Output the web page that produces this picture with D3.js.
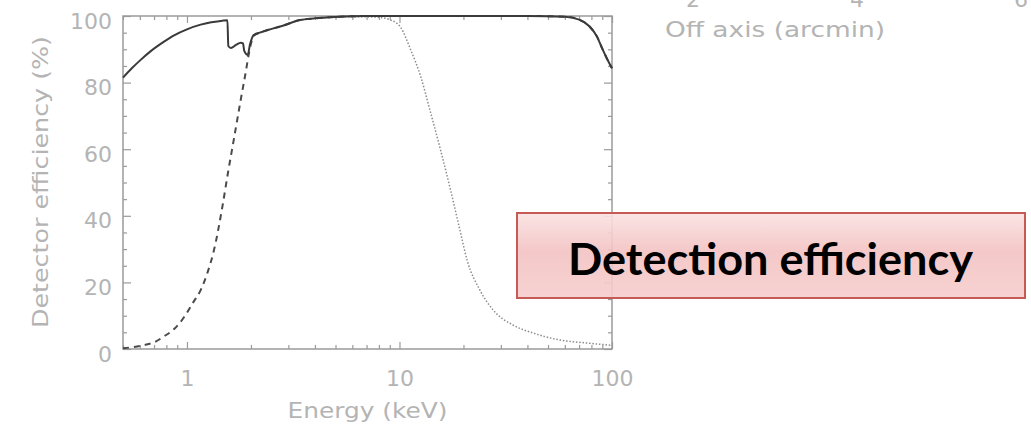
<!DOCTYPE html>
<html>
<head>
<meta charset="utf-8">
<script src="https://cdn.jsdelivr.net/npm/d3@7"></script>
<style>
  html, body { margin: 0; padding: 0; background: #fff; }
  svg { display: block; }
</style>
</head>
<body>
<svg id="chart" width="1031" height="427"></svg>
<script>
// Energy grid (keV) and efficiency (%) for each curve
const solidEnergy = [0.5, 0.55, 0.6, 0.68, 0.78, 0.87, 1.0, 1.16, 1.3, 1.47, 1.55,
  1.565, 1.61, 1.7, 1.79, 1.835, 1.86, 1.93, 1.98, 2.06, 2.2, 2.4, 2.8, 3.4, 4, 5, 7,
  10, 20, 40, 60, 70, 78, 85, 90, 95, 100];
const solidEff = [81.5, 84.3, 86.6, 89.6, 92.3, 94.2, 96.0, 97.4, 98.1, 98.6, 98.7,
  91.0, 90.4, 91.3, 92.0, 91.8, 89.5, 88.3, 91.5, 94.3, 95.0, 95.8, 97.0, 98.8, 99.3, 99.7, 100,
  100, 100, 100, 99.8, 98.9, 97.0, 93.8, 90.2, 87.0, 84.3];

const dashedEnergy = [0.5, 0.56, 0.63, 0.7, 0.78, 0.87, 0.97, 1.07, 1.16, 1.25, 1.34,
  1.47, 1.56, 1.66, 1.79, 1.9, 1.95, 2.06, 2.2, 2.4, 2.8, 3.4, 4, 5, 7,
  10, 20, 40, 60, 70, 78, 85, 90, 95, 100];
const dashedEff = [0.2, 0.6, 1.2, 2.0, 3.8, 6.0, 9.6, 14.0, 17.7, 23.0, 29.7,
  43.0, 53.0, 62.8, 74.8, 84.0, 88.3, 94.0, 95.0, 95.8, 97.0, 98.8, 99.3, 99.7, 100,
  100, 100, 100, 99.8, 98.9, 97.0, 93.8, 90.2, 87.0, 84.3];

const dottedEnergy = [4, 6, 8, 9.07, 10.1, 11.3, 12.6, 13.9, 15.6, 17.4, 19.4, 20.8,
  23.9, 27.6, 34.2, 42.5, 56.9, 76.0, 100];
const dottedEff = [99.3, 99.8, 99.6, 98.8, 96.7, 89.8, 81.7, 71.8, 59.8, 47.7, 34.8, 26.7,
  17.7, 11.7, 7.2, 4.8, 2.7, 1.8, 1.1];

const xTickLabels = [1, 10, 100];
const yTickLabels = [0, 20, 40, 60, 80, 100];
const offAxisTicks = [2, 4, 6];

const svg = d3.select("#chart");
const plotLeft = 123, plotRight = 612, plotTop = 16, plotBottom = 349;

const x = d3.scaleLog().domain([0.5, 100]).range([plotLeft, plotRight]);
const y = d3.scaleLinear().domain([0, 100]).range([plotBottom, plotTop]);

const frameColor = "#9a9a9a";
const labelFont = "'DejaVu Sans', Verdana, sans-serif";
const labelColor = "#b4b4b4";

function label(sel, size) {
  return sel.attr("font-family", labelFont).attr("font-size", size).attr("fill", labelColor);
}

// Frame
svg.append("rect")
  .attr("x", plotLeft).attr("y", plotTop)
  .attr("width", plotRight - plotLeft).attr("height", plotBottom - plotTop)
  .attr("fill", "none").attr("stroke", frameColor).attr("stroke-width", 1.5);

// Minor and major log ticks on bottom and top (pointing inward)
const minorX = [];
[0.1, 1, 10].forEach(d => { for (let k = 2; k <= 9; k++) { const v = d * k; if (v >= 0.5 && v <= 100) minorX.push(v); } });

function styleAxis(g) {
  g.select(".domain").remove();
  g.attr("font-family", labelFont);
  g.selectAll(".tick line").attr("stroke", frameColor).attr("stroke-width", 1.2);
}

svg.append("g").attr("transform", `translate(0,${plotBottom})`)
  .call(d3.axisBottom(x).tickValues(minorX).tickSize(-4).tickFormat(""))
  .call(styleAxis);
svg.append("g").attr("transform", `translate(0,${plotTop})`)
  .call(d3.axisTop(x).tickValues(minorX).tickSize(-4).tickFormat(""))
  .call(styleAxis);
svg.append("g").attr("transform", `translate(0,${plotTop})`)
  .call(d3.axisTop(x).tickValues(xTickLabels).tickSize(-7).tickFormat(""))
  .call(styleAxis);

const xAxis = svg.append("g").attr("transform", `translate(0,${plotBottom})`)
  .call(d3.axisBottom(x).tickValues(xTickLabels).tickSize(-7).tickPadding(22).tickFormat(d3.format("d")))
  .call(styleAxis);
xAxis.selectAll(".tick text").call(label, 22).attr("dy", "0.7em");

// Y ticks: major every 20, minor every 5, on both sides
const minorY = d3.range(0, 101, 5).filter(v => v % 20 !== 0);
svg.append("g").attr("transform", `translate(${plotLeft},0)`)
  .call(d3.axisLeft(y).tickValues(minorY).tickSize(-4).tickFormat(""))
  .call(styleAxis);
svg.append("g").attr("transform", `translate(${plotRight},0)`)
  .call(d3.axisRight(y).tickValues(minorY).tickSize(-4).tickFormat(""))
  .call(styleAxis);
svg.append("g").attr("transform", `translate(${plotRight},0)`)
  .call(d3.axisRight(y).tickValues(yTickLabels).tickSize(-8).tickFormat(""))
  .call(styleAxis);
const yAxis = svg.append("g").attr("transform", `translate(${plotLeft},0)`)
  .call(d3.axisLeft(y).tickValues(yTickLabels).tickSize(-8).tickPadding(11).tickFormat(d3.format("d")))
  .call(styleAxis);
yAxis.selectAll(".tick text").call(label, 22).attr("dy", "0.55em");

// Axis titles
svg.append("text").call(label, 21)
  .attr("x", (plotLeft + plotRight) / 2).attr("y", 418).attr("text-anchor", "middle")
  .attr("textLength", 160).attr("lengthAdjust", "spacingAndGlyphs")
  .text("Energy (keV)");
svg.append("text").call(label, 21)
  .attr("transform", `translate(48,182) rotate(-90)`).attr("text-anchor", "middle")
  .attr("textLength", 292).attr("lengthAdjust", "spacingAndGlyphs")
  .text("Detector efficiency (%)");

// Curves
const line = d3.line().x(d => x(d[0])).y(d => y(d[1])).curve(d3.curveMonotoneX);
const pairs = (xs, ys) => xs.map((v, i) => [v, ys[i]]);

svg.append("path").datum(pairs(dottedEnergy, dottedEff))
  .attr("d", line).attr("fill", "none")
  .attr("stroke", "#8c8c8c").attr("stroke-width", 1.5).attr("stroke-dasharray", "1.5,1.8");

svg.append("path").datum(pairs(dashedEnergy, dashedEff))
  .attr("d", line).attr("fill", "none")
  .attr("stroke", "#4a4a4a").attr("stroke-width", 2).attr("stroke-dasharray", "6,5");

svg.append("path").datum(pairs(solidEnergy, solidEff))
  .attr("d", line).attr("fill", "none")
  .attr("stroke", "#3a3a3a").attr("stroke-width", 2);

// Neighbouring panel: off-axis tick labels and title
const off = d3.scaleLinear().domain([0, 6]).range([529, 1021]);
svg.append("g").selectAll("text").data(offAxisTicks).join("text")
  .call(label, 22)
  .attr("x", d => off(d)).attr("y", 7).attr("text-anchor", "middle")
  .text(d => d);
svg.append("text").call(label, 21)
  .attr("x", 665).attr("y", 37)
  .attr("textLength", 220).attr("lengthAdjust", "spacingAndGlyphs")
  .text("Off axis (arcmin)");

// Callout box
const defs = svg.append("defs");
const grad = defs.append("linearGradient").attr("id", "boxFill")
  .attr("x1", 0).attr("y1", 0).attr("x2", 0).attr("y2", 1);
grad.append("stop").attr("offset", "0%").attr("stop-color", "#fbe2e2");
grad.append("stop").attr("offset", "45%").attr("stop-color", "#f3c2c2");
grad.append("stop").attr("offset", "100%").attr("stop-color", "#f6cdcd");

svg.append("rect")
  .attr("x", 517).attr("y", 213).attr("width", 508).attr("height", 85)
  .attr("fill", "url(#boxFill)").attr("fill-opacity", 0.9)
  .attr("stroke", "#c65a57").attr("stroke-width", 2);
svg.append("text")
  .attr("x", 568).attr("y", 275)
  .attr("font-family", "Lato, 'Open Sans', sans-serif").attr("font-weight", 700)
  .attr("font-size", 44).attr("fill", "#000")
  .attr("textLength", 405).attr("lengthAdjust", "spacingAndGlyphs")
  .text("Detection efficiency");
</script>
</body>
</html>
